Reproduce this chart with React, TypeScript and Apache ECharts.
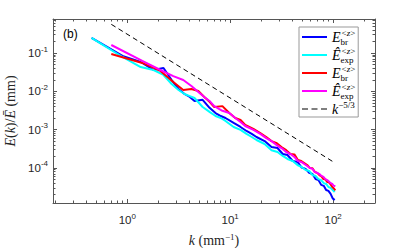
import React, { useEffect, useRef } from "react";
import * as echarts from "echarts";

// wavenumbers (mm^-1)
const kBlue = [0.45, 0.9, 1.35, 1.8, 2.25, 2.7, 3.15, 3.6, 4.05, 4.5, 5.4, 6.3, 7.2, 8.1, 9, 10.8, 12.6, 14.4, 16.2, 18, 21.6, 25.2, 28.8, 32.4, 36, 40.5, 45, 49.5, 54, 58.5, 63, 67.5, 72, 76.5, 81, 85.5, 90, 94.5, 99, 103.5];
const kRed = [0.7, 1.4, 2.1, 2.8, 3.5, 4.2, 4.9, 5.6, 6.3, 7, 8.4, 9.8, 11.2, 12.6, 14, 16.8, 19.6, 22.4, 25.2, 28, 31.5, 35, 38.5, 42, 45.5, 49, 52.5, 56, 59.5, 63, 66.5, 70, 73.5, 77, 80.5, 84, 87.5, 91, 94.5, 98, 101.5, 105];

// E(k)/Ebar (mm)
const blueBr = [0.247, 0.0836, 0.0582, 0.036, 0.0406, 0.0197, 0.0115, 0.0085, 0.0071, 0.0056, 0.006, 0.0037, 0.0027, 0.00226, 0.00201, 0.00149, 0.00117, 9.2e-4, 7.7e-4, 6.4e-4, 5.0e-4, 3.5e-4, 3.3e-4, 2.3e-4, 2.17e-4, 1.51e-4, 1.43e-4, 1.02e-4, 9.4e-5, 7.4e-5, 6.9e-5, 5.1e-5, 4.8e-5, 3.6e-5, 3.4e-5, 2.65e-5, 2.5e-5, 2.1e-5, 1.6e-5, 1.45e-5];
const cyanExp = [0.247, 0.0787, 0.0431, 0.036, 0.0267, 0.0155, 0.0108, 0.0085, 0.0075, 0.0067, 0.0039, 0.0029, 0.00226, 0.00201, 0.00168, 0.00117, 9.8e-4, 7.7e-4, 6.4e-4, 5.35e-4, 4.2e-4, 2.9e-4, 2.6e-4, 2.05e-4, 1.71e-4, 1.51e-4, 1.19e-4, 1.05e-4, 8.8e-5, 8.3e-5, 6.5e-5, 6.15e-5, 5.1e-5, 4.8e-5, 4.0e-5, 3.8e-5, 3.17e-5, 3.0e-5, 2.65e-5, 2.35e-5];
const redBr = [0.094, 0.055, 0.034, 0.0175, 0.0108, 0.0115, 0.0102, 0.0071, 0.0053, 0.0039, 0.0041, 0.0027, 0.002, 0.00178, 0.00132, 0.00104, 8.15e-4, 6.4e-4, 5.0e-4, 4.5e-4, 3.5e-4, 2.9e-4, 2.3e-4, 2.25e-4, 1.61e-4, 1.51e-4, 1.33e-4, 1.19e-4, 9.9e-5, 9.8e-5, 7.8e-5, 7.4e-5, 6.5e-5, 6.0e-5, 5.1e-5, 5.0e-5, 4.3e-5, 4.2e-5, 3.7e-5, 3.2e-5, 2.9e-5, 2.6e-5];
const magentaExp = [0.162, 0.062, 0.036, 0.025, 0.0197, 0.0137, 0.0096, 0.0071, 0.0056, 0.0041, 0.0031, 0.0027, 0.002, 0.00158, 0.00124, 9.8e-4, 7.7e-4, 6.0e-4, 5.0e-4, 4.0e-4, 3.3e-4, 2.6e-4, 2.3e-4, 1.93e-4, 1.51e-4, 1.43e-4, 1.26e-4, 1.12e-4, 9.9e-5, 9.4e-5, 7.8e-5, 7.4e-5, 6.9e-5, 6.15e-5, 5.8e-5, 5.1e-5, 4.8e-5, 4.4e-5, 4.0e-5, 3.8e-5, 3.4e-5, 3.3e-5];
const kRef = [0.7, 104.6];
const refLine = [0.561, 1.34e-4];

// axes
const xMin = 0.19;
const xMax = 255;
const yMin = 1.21e-5;
const yMax = 0.773;
const xMajor = [1, 10, 100];
const xMinor = [0.2, 0.3, 0.4, 0.5, 0.6, 0.7, 0.8, 0.9, 2, 3, 4, 5, 6, 7, 8, 9, 20, 30, 40, 50, 60, 70, 80, 90, 200];
const yMajor = [1e-4, 1e-3, 1e-2, 1e-1];
const yMinor = [2e-5, 3e-5, 4e-5, 5e-5, 6e-5, 7e-5, 8e-5, 9e-5, 2e-4, 3e-4, 4e-4, 5e-4, 6e-4, 7e-4, 8e-4, 9e-4, 2e-3, 3e-3, 4e-3, 5e-3, 6e-3, 7e-3, 8e-3, 9e-3, 2e-2, 3e-2, 4e-2, 5e-2, 6e-2, 7e-2, 8e-2, 9e-2, 0.2, 0.3, 0.4, 0.5, 0.6, 0.7];

const seriesNames = ["Ebr_blue", "Eexp_cyan", "Ebr_red", "Eexp_magenta", "k_ref"];
const legendTexts: Record<string, string> = {
  Ebr_blue: "{i|E}{sb|br}{sp|<}{spi|z}{sp|>}",
  Eexp_cyan: "{i|Ê}{sb|exp}{sp|<}{spi|z}{sp|>}",
  Ebr_red: "{i|E}{sb|br}{sp|<}{spi|z}{sp|>}",
  Eexp_magenta: "{i|Ê}{sb|exp}{sp|<}{spi|z}{sp|>}",
  k_ref: "{i|k}{sp|−5/3}",
};
const solidIcon = "path://M0,0h25v2h-25z";
const dashIcon = "path://M0,0h6v1h-6z M9.5,0h6v1h-6z M19,0h6v1h-6z";

const serif = "'Liberation Serif', 'DejaVu Serif', serif";
const sans = "'Liberation Sans', Arial, Helvetica, sans-serif";
const axisColor = "#555555";
const textColor = "#262626";

export default function App() {
  const ref = useRef<HTMLDivElement>(null);
  useEffect(() => {
    const chart = echarts.init(ref.current!, null, { renderer: "svg" });
    const expLabel = (v: number) => `{b|10}{s|${Math.round(Math.log10(v))}}`;
    const tickRich = {
      b: { fontFamily: sans, fontSize: 11.5, color: textColor, lineHeight: 16 },
      s: { fontFamily: sans, fontSize: 8, color: textColor, lineHeight: 8, verticalAlign: "top" },
    };
    const nameRich = {
      i: { fontFamily: serif, fontStyle: "italic", fontSize: 14, color: textColor, lineHeight: 17 },
      n: { fontFamily: serif, fontSize: 14, color: textColor, lineHeight: 17 },
      s: { fontFamily: serif, fontSize: 9, color: textColor, lineHeight: 9, verticalAlign: "top" },
    };
    const baseX = { type: "log", logBase: 10, min: xMin, max: xMax, splitLine: { show: false } };
    const baseY = { type: "log", logBase: 10, min: yMin, max: yMax, splitLine: { show: false } };
    const line = { show: true, onZero: false, lineStyle: { color: axisColor, width: 1 } };
    const noLine = { show: false, onZero: false };
    const tick = (vals: number[], len: number) => ({
      show: true,
      inside: true,
      length: len,
      customValues: vals,
      lineStyle: { color: axisColor, width: 1 },
    });
    const mkLine = (name: string, k: number[], v: number[], color: string, width: number, type: any = "solid") => ({
      name,
      type: "line",
      data: k.map((x, i) => [x, v[i]]),
      symbol: "none",
      showSymbol: false,
      lineStyle: { color, width, type },
      itemStyle: { color },
      z: 3,
    });

    chart.setOption({
      animation: false,
      backgroundColor: "#ffffff",
      grid: { left: 53, top: 19, width: 322, height: 184, containLabel: false, outerBoundsMode: "none" },
      xAxis: [
        {
          ...baseX,
          position: "bottom",
          axisLine: line,
          axisTick: tick(xMajor, 4),
          axisLabel: { show: true, customValues: xMajor, formatter: expLabel, rich: tickRich, margin: 9 },
          name: "{i|k}{n| (mm}{s|−1}{n|)}",
          nameLocation: "middle",
          nameGap: 29,
          nameTextStyle: { rich: nameRich },
        },
        { ...baseX, position: "bottom", axisLine: noLine, axisTick: tick(xMinor, 2.5), axisLabel: { show: false } },
        { ...baseX, position: "top", axisLine: line, axisTick: tick(xMajor, 4), axisLabel: { show: false } },
        { ...baseX, position: "top", axisLine: noLine, axisTick: tick(xMinor, 2.5), axisLabel: { show: false } },
      ],
      yAxis: [
        {
          ...baseY,
          position: "left",
          axisLine: line,
          axisTick: tick(yMajor, 4),
          axisLabel: { show: true, customValues: yMajor, formatter: expLabel, rich: tickRich, margin: 5 },
          name: "{i|E}{n|(}{i|k}{n|)/}{i|Ē}{n| (mm)}",
          nameLocation: "middle",
          nameRotate: 90,
          nameGap: 31,
          nameTextStyle: { rich: nameRich },
        },
        { ...baseY, position: "left", axisLine: noLine, axisTick: tick(yMinor, 2.5), axisLabel: { show: false } },
        { ...baseY, position: "right", axisLine: line, axisTick: tick(yMajor, 4), axisLabel: { show: false } },
        { ...baseY, position: "right", axisLine: noLine, axisTick: tick(yMinor, 2.5), axisLabel: { show: false } },
      ],
      legend: {
        data: seriesNames.map((n, i) => ({ name: n, icon: i === 4 ? dashIcon : solidIcon })),
        orient: "vertical",
        left: 299,
        top: 27,
        itemWidth: 25,
        itemHeight: 8,
        itemGap: 0,
        padding: [1, 3, 1, 3],
        backgroundColor: "#ffffff",
        borderColor: "#999999",
        borderWidth: 1,
        borderRadius: 0,
        selectedMode: false,
        formatter: (name: string) => legendTexts[name],
        textStyle: {
          color: "#000",
          rich: {
            i: { fontFamily: serif, fontStyle: "italic", fontSize: 14, lineHeight: 18, color: "#000" },
            sb: { fontFamily: serif, fontSize: 9, lineHeight: 9, verticalAlign: "bottom", width: 1, color: "#000" },
            sp: { fontFamily: serif, fontSize: 9, lineHeight: 9, verticalAlign: "top", color: "#000" },
            spi: { fontFamily: serif, fontStyle: "italic", fontSize: 9, lineHeight: 9, verticalAlign: "top", color: "#000" },
          },
        },
      },
      graphic: [
        {
          type: "text",
          left: 63,
          top: 28,
          style: { text: "(b)", font: `12px ${sans}`, fill: "#000" },
        },
      ],
      series: [
        mkLine(seriesNames[0], kBlue, blueBr, "#0000ff", 2),
        mkLine(seriesNames[1], kBlue, cyanExp, "#00ffff", 2),
        mkLine(seriesNames[2], kRed, redBr, "#ff0000", 2),
        mkLine(seriesNames[3], kRed, magentaExp, "#ff00ff", 2),
        mkLine(seriesNames[4], kRef, refLine, "#000000", 1, [5, 3.5]),
      ],
    });
    return () => chart.dispose();
  }, []);
  return <div ref={ref} style={{ position: "fixed", left: 0, top: 0, width: 415, height: 248 }} />;
}
